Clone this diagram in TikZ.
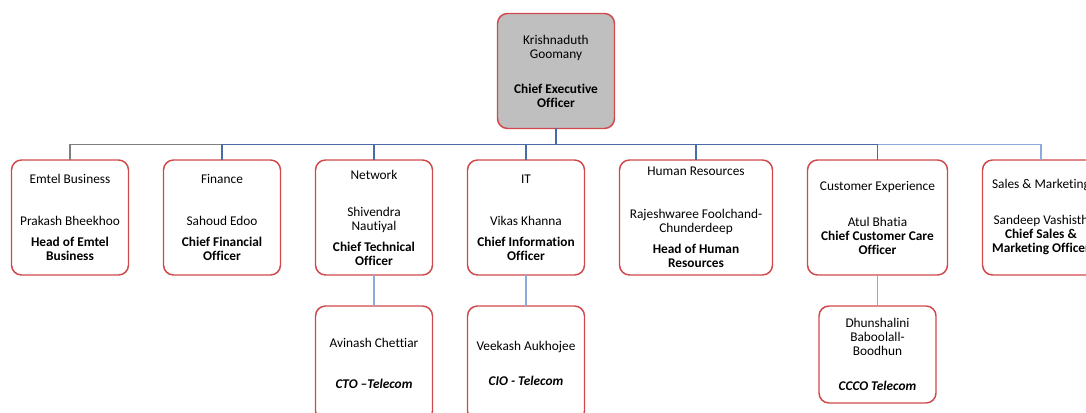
\documentclass[tikz,border=0pt]{standalone}
\usepackage{fontspec}
\setmainfont{Carlito}[Ligatures={NoCommon}]
\usepackage{xcolor}
\usetikzlibrary{positioning}

\definecolor{boxred}{HTML}{D0484B}
\definecolor{ceogray}{HTML}{BFBFBF}
\definecolor{linegray}{HTML}{7F7F7F}
\definecolor{lineblue}{HTML}{4A6BA6}
\definecolor{lightblue}{HTML}{8EA9DB}

\tikzset{
  post/.style={draw=boxred, line width=1.1pt, rounded corners=7.5pt, fill=white, align=center,
    minimum width=87.75pt, minimum height=86.25pt, inner sep=2pt, outer sep=0pt,
    font=\fontsize{10pt}{10.5pt}\selectfont},
  link/.style={line width=0.8pt},
}

\begin{document}
\begin{tikzpicture}[x=0.75pt, y=-0.75pt, node distance=26.25pt]
    \useasboundingbox (0,0) rectangle (1086,413);
    \clip (0,0) rectangle (1086,413);
    % top of the chart
    \node [post, fill=ceogray] (ceo) at (556,71) {Krishnaduth\\Goomany\\[15.75pt]\textbf{Chief Executive}\\\textbf{Officer}};
    % department heads
    \node [post] (emtel) at (70,217.5) {Emtel Business\\[21pt]Prakash Bheekhoo\\[5.25pt]\textbf{Head of Emtel}\\\textbf{Business}};
    \node [post, right=of emtel] (fin) {Finance\\[21pt]Sahoud Edoo\\[5.25pt]\textbf{Chief Financial}\\\textbf{Officer}};
    \node [post, right=of fin] (net) {Network\\[17.25pt]Shivendra\\Nautiyal\\[5.25pt]\textbf{Chief Technical}\\\textbf{Officer}};
    \node [post, right=of net] (it) {IT\\[21pt]Vikas Khanna\\[5.25pt]\textbf{Chief Information}\\\textbf{Officer}};
    \node [post, right=of it, minimum width=114.75pt] (hr) {Human Resources\\[21.75pt]Rajeshwaree Foolchand-\\Chunderdeep\\[5.25pt]\textbf{Head of Human}\\\textbf{Resources}};
    \node [post, right=of hr, minimum width=105pt] (cx) {Customer Experience\\[16.5pt]Atul Bhatia\\\textbf{Chief Customer Care}\\\textbf{Officer}};
    \node [post, right=of cx] (sales) {Sales \& Marketing\\[16.5pt]Sandeep Vashisth\\\textbf{Chief Sales \&}\\\textbf{Marketing Officer}};
    % telecom posts
    \node [post, below=23.25pt of net] (cto) {Avinash Chettiar\\[20.25pt]\textbf{\textit{CTO –Telecom}}};
    \node [post, below=23.25pt of it] (cio) {Veekash Aukhojee\\[15.75pt]\textbf{\textit{CIO - Telecom}}};
    \node [post, below=23.25pt of cx, minimum height=72.75pt] (ccco) {Dhunshalini\\Baboolall-\\Boodhun\\[15.75pt]\textbf{\textit{CCCO Telecom}}};
    % reporting lines
    \foreach \child/\col in {emtel/linegray, fin/lineblue, net/lineblue, it/lineblue, hr/lineblue, sales/lightblue, cx/lineblue}
        \draw [link, draw=\col] (ceo.south) -- ++(0,16) -| (\child.north);
    \foreach \up/\down in {net/cto, it/cio, cx/ccco}
        \draw [link, draw=lightblue] (\up) -- (\down);
\end{tikzpicture}
\end{document}
